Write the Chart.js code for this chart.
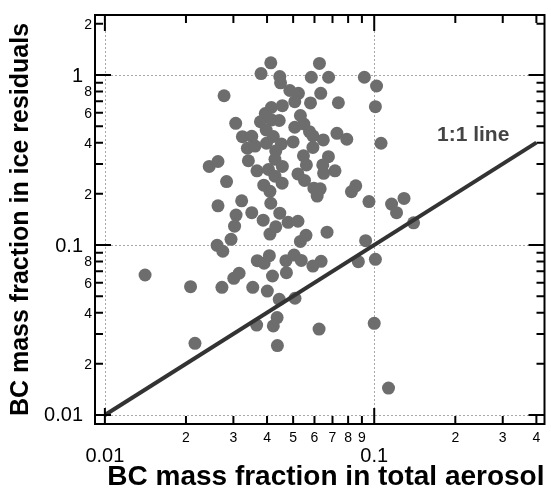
<!DOCTYPE html>
<html lang="en">
<head>
<meta charset="UTF-8">
<title>BC mass fraction: ice residuals vs total aerosol</title>
<script src="https://cdn.jsdelivr.net/npm/chart.js"></script>
<style>
  html, body { margin: 0; padding: 0; background: #fff; }
</style>
</head>
<body>
<canvas id="bcChart" width="551" height="489"></canvas>
<script>
// BC mass fraction in total aerosol (x) and in ice residuals (y), one entry per sample
const bcTotal = [
  0.0413, 0.0380, 0.0446, 0.0449, 0.0626, 0.0584, 0.0677, 0.0919, 0.102, 0.0277,
  0.0486, 0.0523, 0.0507, 0.0633, 0.0580, 0.0736, 0.101, 0.0456, 0.0415, 0.0394,
  0.0306, 0.0378, 0.0416, 0.0444, 0.0532, 0.0507, 0.0548, 0.0575, 0.0592, 0.0324,
  0.0351, 0.0397, 0.0422, 0.0398, 0.0452, 0.0500, 0.0431, 0.0592, 0.0647, 0.0727,
  0.0791, 0.106, 0.0338, 0.0361, 0.0546, 0.0676, 0.0244, 0.0263, 0.0341, 0.0428,
  0.0456, 0.0560, 0.0644, 0.0715, 0.0649, 0.0521, 0.0551, 0.0597, 0.0630, 0.0614,
  0.0854, 0.0823, 0.0956, 0.116, 0.121, 0.129, 0.140, 0.0283, 0.0367, 0.0405,
  0.0428, 0.0455, 0.0389, 0.0410, 0.0263, 0.0322, 0.0413, 0.0351, 0.0387, 0.0307,
  0.0303, 0.0446, 0.0479, 0.0521, 0.0294, 0.0410, 0.0431, 0.0558, 0.0532, 0.0668,
  0.0929, 0.0261, 0.0274, 0.0368, 0.0390, 0.0408, 0.0470, 0.0504, 0.0536, 0.0592,
  0.0635, 0.0873, 0.101, 0.0141, 0.0301, 0.0315, 0.0419, 0.0472, 0.0208, 0.0272,
  0.0354, 0.0401, 0.0444, 0.0508, 0.0436, 0.0422, 0.0366, 0.0624, 0.0216, 0.0437,
  0.100, 0.113
];
const bcIce = [
  1.18, 1.02, 0.98, 0.90, 1.17, 0.97, 0.97, 0.97, 0.862, 0.755,
  0.811, 0.780, 0.697, 0.780, 0.685, 0.687, 0.651, 0.660, 0.644, 0.594,
  0.520, 0.531, 0.544, 0.540, 0.578, 0.493, 0.515, 0.464, 0.438, 0.434,
  0.436, 0.475, 0.435, 0.397, 0.393, 0.404, 0.357, 0.375, 0.415, 0.454,
  0.419, 0.397, 0.371, 0.382, 0.335, 0.331, 0.290, 0.310, 0.313, 0.319,
  0.290, 0.296, 0.296, 0.273, 0.264, 0.262, 0.240, 0.216, 0.214, 0.194,
  0.223, 0.206, 0.180, 0.174, 0.155, 0.188, 0.135, 0.236, 0.273, 0.278,
  0.254, 0.231, 0.225, 0.207, 0.170, 0.182, 0.176, 0.155, 0.140, 0.150,
  0.129, 0.154, 0.136, 0.138, 0.108, 0.116, 0.128, 0.114, 0.105, 0.119,
  0.106, 0.0996, 0.0919, 0.0809, 0.0781, 0.0865, 0.0809, 0.0873, 0.0811, 0.0752,
  0.0802, 0.0798, 0.0824, 0.0666, 0.0637, 0.0682, 0.0657, 0.0687, 0.0569, 0.0564,
  0.0564, 0.0536, 0.0479, 0.0486, 0.0374, 0.0334, 0.0338, 0.0320, 0.0264, 0.0256,
  0.0346, 0.0144
];

// 1:1 reference line
const lineX = [0.01, 0.4];
const lineY = [0.01, 0.4];

// tick positions and their labels
const xTicks = [0.01, 0.02, 0.03, 0.04, 0.05, 0.06, 0.07, 0.08, 0.09, 0.1, 0.2, 0.3, 0.4];
const xTickLabels = ['0.01', '2', '3', '4', '5', '6', '7', '8', '9', '0.1', '2', '3', '4'];
const yTicks = [0.01, 0.02, 0.03, 0.04, 0.05, 0.06, 0.07, 0.08, 0.09,
                0.1, 0.2, 0.3, 0.4, 0.5, 0.6, 0.7, 0.8, 0.9, 1, 2];
const yTickLabels = ['0.01', '2', '', '4', '', '6', '', '8', '',
                     '0.1', '2', '', '4', '', '6', '', '8', '', '1', '2'];
const xMajor = [0.01, 0.1];
const yMajor = [0.01, 0.1, 1];

const FONT = '"Liberation Sans", Arial, Helvetica, sans-serif';

// frame with inside ticks on all four sides, dotted decade grid, tick labels
const logFrame = {
  id: 'logFrame',
  beforeDatasetsDraw(chart) {
    const {ctx, chartArea: a, scales: {x, y}} = chart;
    ctx.save();
    ctx.strokeStyle = '#a8a8a8';
    ctx.lineWidth = 1;
    ctx.setLineDash([2, 2]);
    ctx.beginPath();
    xMajor.forEach(v => {
      const px = Math.round(x.getPixelForValue(v)) + 0.5;
      ctx.moveTo(px, a.top); ctx.lineTo(px, a.bottom);
    });
    yMajor.forEach(v => {
      const py = Math.round(y.getPixelForValue(v)) + 0.5;
      ctx.moveTo(a.left, py); ctx.lineTo(a.right, py);
    });
    ctx.stroke();
    ctx.restore();
  },
  afterDatasetsDraw(chart) {
    const {ctx, chartArea: a, scales: {x, y}} = chart;
    ctx.save();
    ctx.strokeStyle = '#000';
    ctx.lineWidth = 2;
    ctx.strokeRect(a.left, a.top, a.right - a.left, a.bottom - a.top);

    ctx.beginPath();
    xTicks.forEach(v => {
      const px = x.getPixelForValue(v);
      const len = xMajor.includes(v) ? 16 : 8;
      ctx.moveTo(px, a.bottom); ctx.lineTo(px, a.bottom - len);
      ctx.moveTo(px, a.top); ctx.lineTo(px, a.top + len);
    });
    yTicks.forEach(v => {
      const py = y.getPixelForValue(v);
      const len = yMajor.includes(v) ? 16 : 8;
      ctx.moveTo(a.left, py); ctx.lineTo(a.left + len, py);
      ctx.moveTo(a.right, py); ctx.lineTo(a.right - len, py);
    });
    ctx.stroke();

    ctx.fillStyle = '#000';
    ctx.textAlign = 'center';
    ctx.textBaseline = 'middle';
    xTicks.forEach((v, i) => {
      if (!xTickLabels[i]) return;
      const major = xMajor.includes(v);
      ctx.font = (major ? 20 : 14) + 'px ' + FONT;
      ctx.fillText(xTickLabels[i], x.getPixelForValue(v), a.bottom + (major ? 32 : 14));
    });
    ctx.textAlign = 'right';
    yTicks.forEach((v, i) => {
      if (!yTickLabels[i]) return;
      const major = yMajor.includes(v);
      ctx.font = (major ? 20 : 14) + 'px ' + FONT;
      ctx.fillText(yTickLabels[i], a.left - (major ? 12 : 3), y.getPixelForValue(v) + 1);
    });

    ctx.font = 'bold 21px ' + FONT;
    ctx.fillStyle = '#444';
    ctx.textAlign = 'center';
    ctx.fillText('1:1 line', x.getPixelForValue(0.233), y.getPixelForValue(0.44));
    ctx.restore();
  }
};

const points = bcTotal.map((v, i) => ({x: v, y: bcIce[i]}));
const oneToOne = lineX.map((v, i) => ({x: v, y: lineY[i]}));

new Chart(document.getElementById('bcChart'), {
  type: 'scatter',
  data: {
    datasets: [{
      data: oneToOne,
      type: 'line',
      borderColor: '#333',
      borderWidth: 4,
      pointRadius: 0,
      order: 0
    }, {
      data: points,
      backgroundColor: '#6d6d6d',
      borderWidth: 0,
      pointRadius: 6.5,
      pointHoverRadius: 6.5,
      order: 1
    }]
  },
  options: {
    responsive: false,
    animation: false,
    layout: { padding: { top: 15, right: 2, left: 0, bottom: 0 } },
    plugins: { legend: { display: false }, tooltip: { enabled: false } },
    scales: {
      x: {
        type: 'logarithmic',
        bounds: 'data',
        min: 0.00919,
        max: 0.4287,
        grid: { display: false },
        border: { display: false },
        ticks: { display: false },
        afterFit: s => { s.height = 65; },
        title: {
          display: true,
          text: 'BC mass fraction in total aerosol',
          align: 'end',
          color: '#000',
          font: { family: FONT, size: 28, weight: 'bold', lineHeight: 0.85 },
          padding: { top: 0, bottom: 0 }
        }
      },
      y: {
        type: 'logarithmic',
        bounds: 'data',
        min: 0.00885,
        max: 2.255,
        grid: { display: false },
        border: { display: false },
        ticks: { display: false },
        afterFit: s => { s.width = 95; },
        title: {
          display: true,
          text: 'BC mass fraction in ice residuals',
          color: '#000',
          font: { family: FONT, size: 25, weight: 'bold' },
          padding: { top: 6, bottom: 0 }
        }
      }
    }
  },
  plugins: [logFrame]
});
</script>
</body>
</html>
